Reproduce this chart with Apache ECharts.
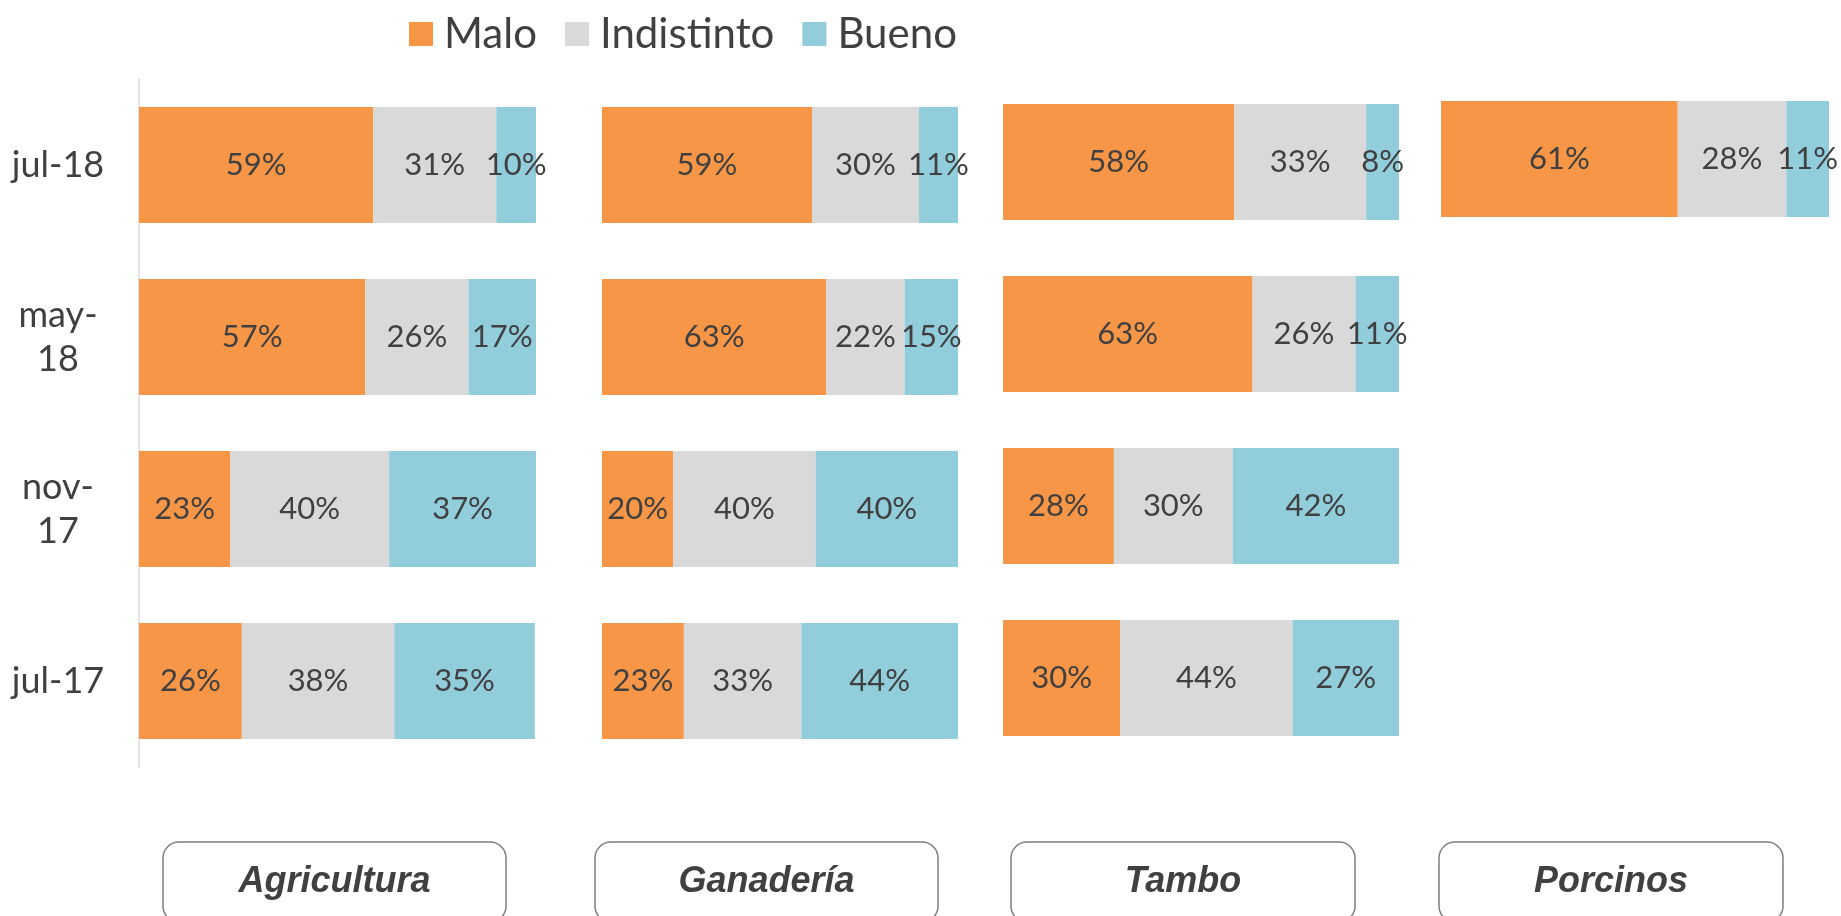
<!DOCTYPE html>
<html>
<head>
<meta charset="utf-8">
<script src="https://cdn.jsdelivr.net/npm/echarts@6/dist/echarts.min.js"></script>
<style>
  html, body { margin: 0; padding: 0; background: #fff; }
  #main { width: 1841px; height: 916px; }
</style>
</head>
<body>
<div id="main"></div>
<script>
// categorias (de abajo hacia arriba)
var categories = ['jul-17', 'nov-17', 'may-18', 'jul-18'];
var seriesNames = ['Malo', 'Indistinto', 'Bueno'];
var panelNames = ['Agricultura', 'Ganadería', 'Tambo', 'Porcinos'];

// Agricultura
var agriMalo = [25.9, 23, 57, 59];
var agriIndistinto = [38.4, 40, 26, 31];
var agriBueno = [35.4, 37, 17, 10];

// Ganaderia
var ganMalo = [23, 20, 63, 59];
var ganIndistinto = [33, 40, 22, 30];
var ganBueno = [44, 40, 15, 11];

// Tambo
var tamboMalo = [29.6, 28, 63, 58.4];
var tamboIndistinto = [43.5, 30, 26, 33.3];
var tamboBueno = [26.9, 42, 11, 8.3];

// Porcinos (solo jul-18)
var porcMalo = [null, null, null, 61];
var porcIndistinto = [null, null, null, 28];
var porcBueno = [null, null, null, 11];

var panelData = [
    [agriMalo, agriIndistinto, agriBueno],
    [ganMalo, ganIndistinto, ganBueno],
    [tamboMalo, tamboIndistinto, tamboBueno],
    [porcMalo, porcIndistinto, porcBueno]
];

var colors = ['#F79646', '#D9D9D9', '#92CDDC'];
var textColor = '#404040';
var font = 'Lato, "Open Sans", sans-serif';

// posicion de cada grafico
var grids = [
    { left: 139, top: 79, width: 397, height: 688 },
    { left: 602, top: 79, width: 356, height: 688 },
    { left: 1003, top: 76, width: 396, height: 688 },
    { left: 1441, top: 73, width: 388, height: 688 }
];
var boxes = [[163, 506], [595, 938], [1011, 1355], [1439, 1783]];

var chart = echarts.init(document.getElementById('main'));

var xAxes = [], yAxes = [], series = [], graphics = [];

grids.forEach(function (g, i) {
    xAxes.push({
        gridIndex: i, type: 'value', min: 0, max: 100, show: false
    });
    yAxes.push({
        gridIndex: i,
        type: 'category',
        data: categories,
        show: i === 0,
        axisLine: { show: true, lineStyle: { color: '#D9D9D9', width: 1.5 } },
        axisTick: { show: false },
        axisLabel: {
            margin: 81,
            align: 'center',
            color: textColor,
            fontFamily: font,
            fontSize: 36,
            lineHeight: 44,
            formatter: function (v) {
                return v.indexOf('jul') === 0 ? v : v.replace('-', '-\n');
            }
        }
    });
    panelData[i].forEach(function (values, s) {
        series.push({
            name: seriesNames[s],
            type: 'bar',
            xAxisIndex: i,
            yAxisIndex: i,
            stack: 'p' + i,
            barWidth: 116,
            itemStyle: { color: colors[s] },
            label: {
                show: true,
                position: 'inside',
                color: textColor,
                fontFamily: font,
                fontSize: 31,
                formatter: function (p) {
                    return p.value == null ? '' : Math.round(p.value) + '%';
                }
            },
            data: values
        });
    });
    graphics.push({
        type: 'rect',
        shape: { x: boxes[i][0], y: 842, width: boxes[i][1] - boxes[i][0], height: 80, r: 16 },
        style: { fill: '#fff', stroke: '#7F7F7F', lineWidth: 1.5 }
    });
    graphics.push({
        type: 'text',
        x: (boxes[i][0] + boxes[i][1]) / 2,
        y: 882,
        style: {
            text: panelNames[i],
            textAlign: 'center',
            textVerticalAlign: 'middle',
            fill: textColor,
            font: 'italic bold 36px "Liberation Sans", Arial, sans-serif'
        }
    });
});

var option = {
    backgroundColor: '#fff',
    animation: false,
    legend: {
        data: seriesNames,
        left: 404,
        top: 8,
        itemWidth: 24,
        itemHeight: 24,
        itemGap: 28,
        icon: 'rect',
        textStyle: {
            color: textColor,
            fontFamily: font,
            fontSize: 42,
            padding: [0, 0, 0, 6]
        }
    },
    grid: grids,
    xAxis: xAxes,
    yAxis: yAxes,
    series: series,
    graphic: graphics
};

chart.setOption(option);
</script>
</body>
</html>
